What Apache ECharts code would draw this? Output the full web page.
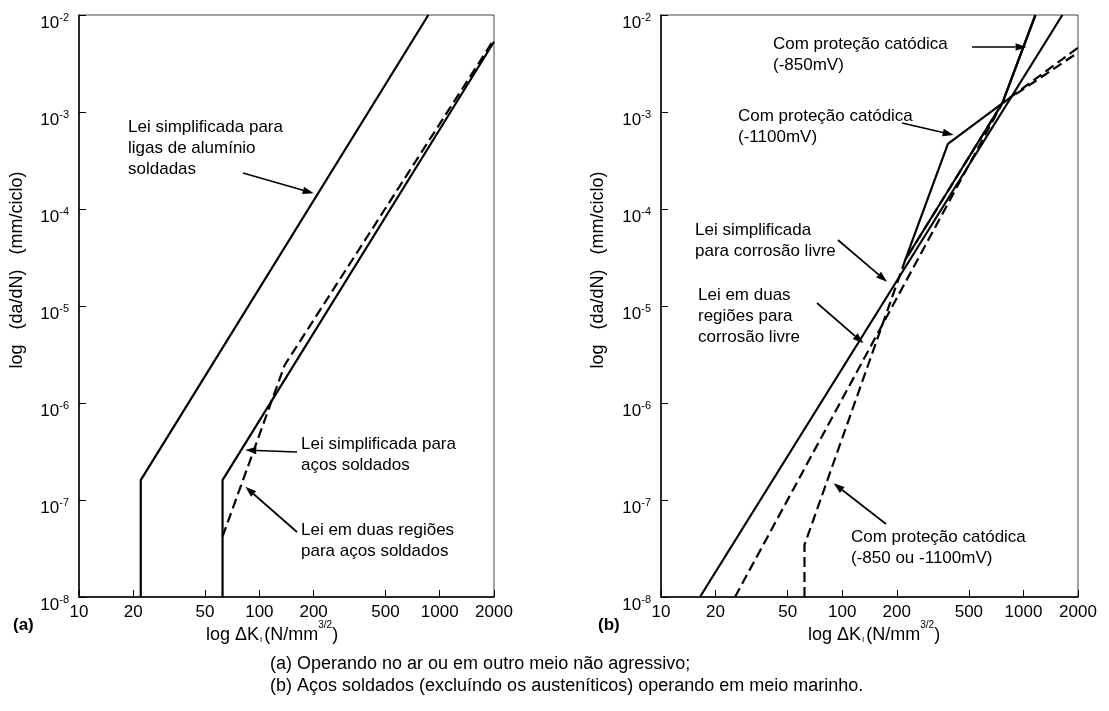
<!DOCTYPE html>
<html>
<head>
<meta charset="utf-8">
<script src="https://cdn.jsdelivr.net/npm/echarts@6/dist/echarts.min.js"></script>
<style>
  html, body { margin: 0; padding: 0; background: #fff; }
  #chart { width: 1109px; height: 711px; }
</style>
</head>
<body>
<div id="chart"></div>
<script>
// Tick values shared by both panels
const xTicks = [10, 20, 50, 100, 200, 500, 1000, 2000];
const yTicks = [1e-8, 1e-7, 1e-6, 1e-5, 1e-4, 1e-3, 1e-2];

// (a) Air / non-aggressive environment  [ΔK, da/dN]
const aluminiumSimplified = [[22.0, 1e-8], [22.0, 1.6e-7], [865, 1e-2]];
const steelSimplified = [[62.5, 1e-8], [62.5, 1.6e-7], [2000, 5.3e-3]];
const steelTwoStage = [[62.5, 4.2e-8], [138, 2.45e-6], [2000, 5.6e-3]];

// (b) Marine environment
const freeCorrSimplified = [[16.4, 1e-8], [1640, 1e-2]];
const freeCorrTwoStage = [[25.6, 1e-8], [764, 1.23e-3], [2000, 4.6e-3]];
const cpTwoStage = [[61.9, 1e-8], [61.9, 3.44e-8], [223, 3.0e-5], [764, 1.23e-3], [2000, 4.1e-3]];
const cp850 = [[223, 3.0e-5], [764, 1.23e-3], [1164, 1e-2]];
const cp1100 = [[223, 3.0e-5], [383, 4.7e-4], [764, 1.23e-3], [1164, 1e-2]];

const FONT = 'Arial, "Liberation Sans", sans-serif';
const GRID_A = { left: 79, right: 1109 - 494, top: 15, bottom: 711 - 597 };
const GRID_B = { left: 661, right: 1109 - 1078, top: 15, bottom: 711 - 597 };

function expLabel(v) {
  const e = Math.round(Math.log10(v));
  return '{b|10}{s|' + e + '}';
}

function xAxis(gridIndex) {
  return {
    type: 'log', gridIndex, min: 10, max: 2000, logBase: 10,
    axisLine: { lineStyle: { color: '#000', width: 1.5 } },
    axisTick: { show: true, inside: true, length: 7, customValues: xTicks, lineStyle: { color: '#000', width: 1 } },
    axisLabel: { customValues: xTicks, color: '#000', fontFamily: FONT, fontSize: 17, margin: 7, formatter: v => String(Math.round(v)) },
    splitLine: { show: false }, minorTick: { show: false }
  };
}
function yAxis(gridIndex) {
  return {
    type: 'log', gridIndex, min: 1e-8, max: 1e-2, logBase: 10,
    axisLine: { lineStyle: { color: '#000', width: 1.5 } },
    axisTick: { show: true, inside: true, length: 7, customValues: yTicks, lineStyle: { color: '#000', width: 1 } },
    axisLabel: {
      customValues: yTicks, color: '#000', fontFamily: FONT, margin: 10, formatter: expLabel,
      padding: [14, 0, 0, 0],
      rich: {
        b: { fontSize: 17, fontFamily: FONT, color: '#000', lineHeight: 20, verticalAlign: 'bottom' },
        s: { fontSize: 11, fontFamily: FONT, color: '#000', lineHeight: 2, verticalAlign: 'top' }
      }
    },
    splitLine: { show: false }, minorTick: { show: false }
  };
}

function lineSeries(data, xi, dashed) {
  return {
    type: 'line', xAxisIndex: xi, yAxisIndex: xi, data, symbol: 'none', silent: true,
    lineStyle: { color: '#000', width: 2.2, type: dashed ? [10, 5] : 'solid' },
    clip: true, animation: false
  };
}

const chart = echarts.init(document.getElementById('chart'), null, { renderer: 'canvas' });
chart.setOption({
  backgroundColor: '#fff',
  animation: false,
  grid: [
    Object.assign({ show: true, borderColor: '#444', borderWidth: 1 }, GRID_A),
    Object.assign({ show: true, borderColor: '#444', borderWidth: 1 }, GRID_B)
  ],
  xAxis: [xAxis(0), xAxis(1)],
  yAxis: [yAxis(0), yAxis(1)],
  series: [
    lineSeries(aluminiumSimplified, 0, false),
    lineSeries(steelSimplified, 0, false),
    lineSeries(steelTwoStage, 0, true),
    lineSeries(freeCorrSimplified, 1, false),
    lineSeries(freeCorrTwoStage, 1, true),
    lineSeries(cpTwoStage, 1, true),
    lineSeries(cp850, 1, false),
    lineSeries(cp1100, 1, false)
  ]
});

// Annotations: text placed in pixels, arrow tips anchored to data coordinates
const px = (xi, k, v) => chart.convertToPixel({ xAxisIndex: xi, yAxisIndex: xi }, [k, v]);
const notes = [
  { text: 'Lei simplificada para\nligas de alumínio\nsoldadas', x: 128, y: 117, from: [243, 173], to: [0, 200, 1.45e-4] },
  { text: 'Lei simplificada para\naços soldados', x: 301, y: 434, from: [297, 452], to: [0, 83.6, 3.27e-7] },
  { text: 'Lei em duas regiões\npara aços soldados', x: 301, y: 520, from: [297, 532], to: [0, 83.6, 1.37e-7] },
  { text: 'Com proteção catódica\n(-850mV)', x: 773, y: 34, from: [972, 47], to: [1, 1040, 4.68e-3] },
  { text: 'Com proteção catódica\n(-1100mV)', x: 738, y: 106, from: [902, 123], to: [1, 412, 5.8e-4] },
  { text: 'Lei simplificada\npara corrosão livre', x: 695, y: 220, from: [838, 240], to: [1, 176.6, 1.78e-5] },
  { text: 'Lei em duas\nregiões para\ncorrosão livre', x: 698, y: 285, from: [817, 303], to: [1, 131, 4.12e-6] },
  { text: 'Com proteção catódica\n(-850 ou -1100mV)', x: 851, y: 527, from: [886, 524], to: [1, 89.6, 1.49e-7] }
];
const graphics = [];
notes.forEach(n => {
  graphics.push({
    type: 'text', left: n.x, top: n.y,
    style: { text: n.text, fill: '#000', font: '17px ' + FONT, lineHeight: 21 }
  });
  const tip = px(n.to[0], n.to[1], n.to[2]);
  const dx = tip[0] - n.from[0], dy = tip[1] - n.from[1];
  const len = Math.hypot(dx, dy), ux = dx / len, uy = dy / len;
  const hl = 11, hw = 3.8;
  const bx = tip[0] - ux * hl, by = tip[1] - uy * hl;
  graphics.push({ type: 'line', shape: { x1: n.from[0], y1: n.from[1], x2: bx, y2: by }, style: { stroke: '#000', lineWidth: 1.7 } });
  graphics.push({
    type: 'polygon',
    shape: { points: [[tip[0], tip[1]], [bx - uy * hw, by + ux * hw], [bx + uy * hw, by - ux * hw]] },
    style: { fill: '#000' }
  });
});

// Axis titles, panel tags and caption
const yTitle = (x) => ({
  type: 'text', x: x, y: 270, rotation: Math.PI / 2,
  style: { text: 'log   (da/dN)   (mm/ciclo)', fill: '#000', font: '18px ' + FONT, align: 'center', verticalAlign: 'middle' }
});
const xTitle = (x) => ({
  type: 'text', left: x, top: 620,
  style: {
    text: '{t|log ΔK}{i|I}{t|(N/mm}{e|3/2}{t|)}',
    rich: {
      t: { font: '18px ' + FONT, fill: '#000', lineHeight: 24, verticalAlign: 'bottom' },
      i: { font: '8px ' + FONT, fill: '#000', lineHeight: 24, verticalAlign: 'bottom', padding: [0, 2, 0, 1] },
      e: { font: '10px ' + FONT, fill: '#000', lineHeight: 6, verticalAlign: 'top' }
    }
  }
});
graphics.push(yTitle(17), yTitle(598), xTitle(206), xTitle(808));
graphics.push(
  { type: 'text', left: 13, top: 617, style: { text: '(a)', fill: '#000', font: 'bold 17px ' + FONT } },
  { type: 'text', left: 598, top: 617, style: { text: '(b)', fill: '#000', font: 'bold 17px ' + FONT } },
  {
    type: 'text', left: 270, top: 653,
    style: {
      text: '(a) Operando no ar ou em outro meio não agressivo;\n(b) Aços soldados (excluíndo os austeníticos) operando em meio marinho.',
      fill: '#000', font: '18px ' + FONT, lineHeight: 22
    }
  }
);
chart.setOption({ graphic: graphics });
</script>
</body>
</html>
